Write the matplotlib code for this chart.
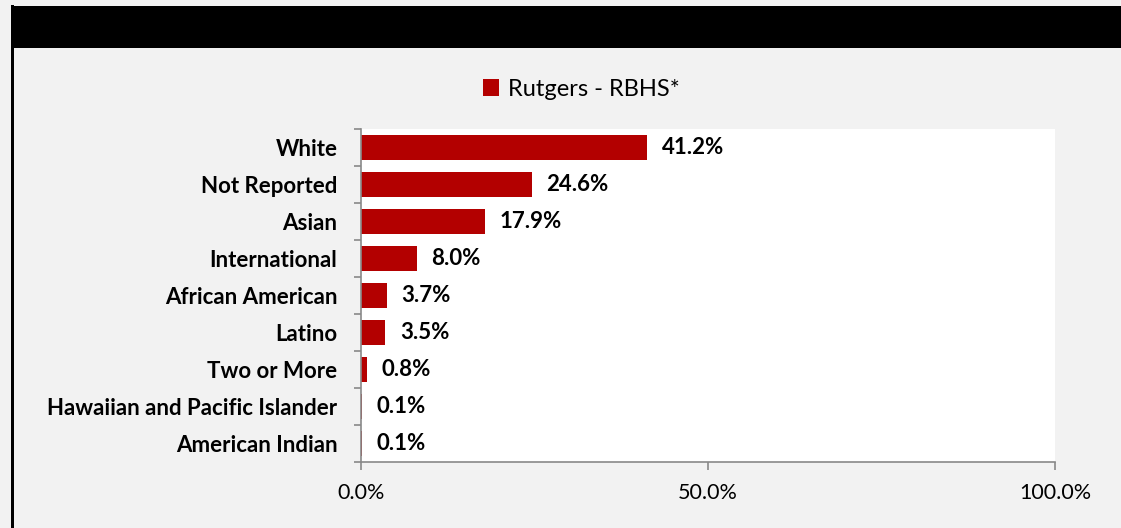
import matplotlib.pyplot as plt
from matplotlib.patches import Rectangle

categories = ["White", "Not Reported", "Asian", "International", "African American",
              "Latino", "Two or More", "Hawaiian and Pacific Islander", "American Indian"]
values = [41.2, 24.6, 17.9, 8.0, 3.7, 3.5, 0.8, 0.1, 0.1]
series_name = "Rutgers - RBHS*"

W, H = 1121, 528
plt.rcParams["font.family"] = ["Lato", "DejaVu Sans"]

fig = plt.figure(figsize=(W / 100, H / 100), dpi=100, facecolor="#f2f2f2")

# header band and left border
fig.add_artist(Rectangle((11 / W, 1 - 47.5 / H), 1, 41.5 / H, transform=fig.transFigure,
                         color="black", lw=0))
fig.add_artist(Rectangle((11 / W, 0), 3 / W, 1 - 5 / H, transform=fig.transFigure,
                         color="black", lw=0))

ax = fig.add_axes([361 / W, 1 - 462 / H, (1055 - 361) / W, (462 - 129) / H])
ax.set_facecolor("white")

y = list(range(len(categories)))
bars = ax.barh(y, values, height=0.68, color="#b30000", lw=0, label=series_name)
for yi, v in zip(y, values):
    ax.annotate(f"{v:.1f}%", (v, yi), xytext=(10.5, 0), textcoords="offset points",
                va="center", ha="left", fontsize=16, fontweight="bold")

ax.set_ylim(len(categories) - 0.5, -0.5)
ax.set_xlim(0, 100)
ax.set_yticks(y)
ax.set_yticklabels(categories, fontsize=16, fontweight="bold")
ax.set_yticks([i - 0.5 for i in range(len(categories) + 1)], minor=True)
ax.tick_params(axis="y", which="major", length=0, pad=17)
ax.tick_params(axis="y", which="minor", length=5, color="#898989", width=1.2)
ax.set_xticks([0, 50, 100])
ax.set_xticklabels(["0.0%", "50.0%", "100.0%"], fontsize=15.5)
ax.tick_params(axis="x", length=6, color="#898989", width=1.2, pad=9)

for s in ["top", "right"]:
    ax.spines[s].set_visible(False)
for s in ["left", "bottom"]:
    ax.spines[s].set_color("#898989")
    ax.spines[s].set_linewidth(1.2)

fig.legend(handles=[bars], labels=[series_name], loc="center",
           bbox_to_anchor=(581 / W, 1 - 89 / H), frameon=False, fontsize=17,
           handlelength=0.7, handleheight=0.7, handletextpad=0.35)

fig.savefig("out.png", dpi=100, facecolor=fig.get_facecolor())
